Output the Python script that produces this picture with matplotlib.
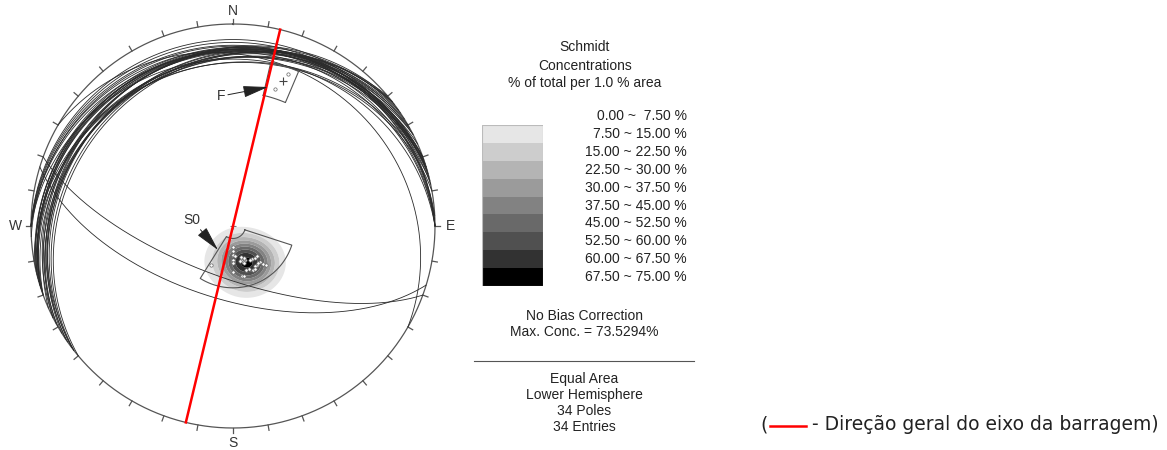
import numpy as np
import matplotlib.pyplot as plt
from matplotlib.patches import Rectangle
from matplotlib.lines import Line2D

# --- data: planes as (dip direction, dip) in degrees ---
# set S0 (shallow, dipping to NNW)
s0_dipdir = [0, 0, 0, 0, 0, 330, 325, 323, 328, 322, 320, 340, 336, 350, 0, 30,
             340, 342, 344, 346, 348, 333, 322, 326, 331, 343, 333, 347, 341, 345, 343, 357]
s0_dip = [8.5, 10, 11.5, 13.5, 15, 15.5, 15.5, 18, 18.5, 19.5, 20.5, 18.5, 19.5, 20.5, 18.5, 18,
          14.5, 14, 15, 14, 14.5, 15.5, 15.5, 18, 18.5, 18.5, 19.5, 20.5, 13.5, 13, 15.5, 12]
# set F (steep, dipping to SSW)
f_dipdir = [197, 200]
f_dip = [60, 69]
f_mean_pole = (19, 25)  # trend, plunge

# set windows: pole trend range / plunge range
s0_win_trend = [108, 212]
s0_win_plunge = [65, 85]
f_win_trend = [13, 23]
f_win_plunge = [18, 34]

# general direction of the dam axis (trend, degrees)
axis_trend = 13.5

# concentration legend
levels = [0, 7.5, 15, 22.5, 30, 37.5, 45, 52.5, 60, 67.5, 75]
greys = ["#e6e6e6", "#cdcdcd", "#b4b4b4", "#9b9b9b", "#828282",
         "#696969", "#505050", "#323232", "#000000"]


def project(trend, plunge):
    # lower hemisphere equal-area (Schmidt) projection, unit radius
    t = np.radians(trend)
    p = np.radians(plunge)
    r = np.sqrt(2) * np.sin((np.pi / 2 - p) / 2)
    return r * np.sin(t), r * np.cos(t)


def great_circle(dd, dip):
    dd = np.radians(dd)
    d = np.radians(dip)
    a = np.linspace(0, np.pi, 241)
    s = np.array([np.cos(dd - np.pi / 2), np.sin(dd - np.pi / 2), 0.0])
    v = np.array([np.cos(d) * np.cos(dd), np.cos(d) * np.sin(dd), np.sin(d)])
    ln = np.outer(np.cos(a), s) + np.outer(np.sin(a), v)
    plunge = np.degrees(np.arcsin(np.clip(ln[:, 2], -1, 1)))
    trend = np.degrees(np.arctan2(ln[:, 1], ln[:, 0]))
    return project(trend, plunge)


def to_vec(trend, plunge):
    t = np.radians(trend)
    p = np.radians(plunge)
    return np.stack([np.cos(p) * np.cos(t), np.cos(p) * np.sin(t), np.sin(p)], axis=-1)


def window(trends, plunges):
    t = np.linspace(trends[0], trends[1], 60)
    x1, y1 = project(t, np.full_like(t, plunges[1]))
    x2, y2 = project(t[::-1], np.full_like(t, plunges[0]))
    xs = np.concatenate([x1, x2, x1[:1]])
    ys = np.concatenate([y1, y2, y1[:1]])
    return xs, ys


all_dd = np.array(s0_dipdir + f_dipdir, dtype=float)
all_dip = np.array(s0_dip + f_dip, dtype=float)
pole_trend = (all_dd + 180) % 360
pole_plunge = 90 - all_dip
n_poles = len(all_dd)

fig = plt.figure(figsize=(11.67, 4.5), dpi=100)
plt.rcParams["font.family"] = ["Liberation Sans", "DejaVu Sans"]

# stereonet axes: centre at pixel (233, 226), radius 202 px
cx, cy, R, half = 233, 226, 202, 220
ax = fig.add_axes([(cx - half) / 1167, (450 - cy - half) / 450, 2 * half / 1167, 2 * half / 450])
lim = half / R
ax.set_xlim(-lim, lim)
ax.set_ylim(-lim, lim)
ax.set_aspect("equal")
ax.axis("off")

# density (Schmidt counting, smoothed)
g = np.linspace(-1, 1, 401)
gx, gy = np.meshgrid(g, g)
rr = np.hypot(gx, gy)
gp = 90 - 2 * np.degrees(np.arcsin(np.clip(rr / np.sqrt(2), 0, 1)))
gt = np.degrees(np.arctan2(gx, gy))
gv = to_vec(gt, gp)
pv = to_vec(pole_trend, pole_plunge)
cosang = np.abs(gv @ pv.T)
k = 85.0
dens = 100.0 / n_poles * np.exp(k * (cosang - 1)).sum(axis=-1)
dens = np.where(rr <= 1, dens, np.nan)
ax.contourf(gx, gy, dens, levels=levels[1:], colors=greys, zorder=1, extend="neither",
            antialiased=True)

# primitive circle and ticks
th = np.linspace(0, 2 * np.pi, 721)
ax.plot(np.sin(th), np.cos(th), color="#555555", lw=0.9, zorder=2)
for az in range(0, 360, 10):
    a = np.radians(az)
    ax.plot([np.sin(a), 1.027 * np.sin(a)], [np.cos(a), 1.027 * np.cos(a)],
            color="#555555", lw=0.9, zorder=2)
lab = dict(ha="center", va="center", fontsize=10, color="#333333")
ax.text(0, 1.062, "N", **lab)
ax.text(0, -1.075, "S", **lab)
ax.text(1.078, 0, "E", **lab)
ax.text(-1.075, 0, "W", **lab)

# plane great circles
for dd, dip in zip(all_dd, all_dip):
    x, y = great_circle(dd, dip)
    ax.plot(x, y, color="#2a2a2a", lw=0.6, zorder=3)

# set windows
for tr, pl in [(s0_win_trend, s0_win_plunge), (f_win_trend, f_win_plunge)]:
    x, y = window(tr, pl)
    ax.plot(x, y, color="#555555", lw=0.8, zorder=4)

# poles
px, py = project(pole_trend, pole_plunge)
ax.plot(px, py, "o", ms=2.4, mfc="white", mec="#666666", mew=0.5, ls="none", zorder=5)
mx, my = project(*f_mean_pole)
ax.plot(mx, my, "+", ms=6, color="#444444", mew=0.8, zorder=5)
ax.plot(0, 0, "+", ms=5, color="#777777", mew=0.8, zorder=5)

# dam axis direction
ax1, ay1 = project(axis_trend, 0)
ax2, ay2 = project(axis_trend + 180, 0)
ax.plot([ax1, ax2], [ay1, ay2], color="#ff0000", lw=1.8, zorder=6)

# set labels
arrow = dict(arrowstyle="-|>,head_length=1.3,head_width=0.3", color="#222222",
             lw=0.7, mutation_scale=12, shrinkA=0, shrinkB=0)
ax.annotate("F", xy=(0.173, 0.688), xytext=(-0.06, 0.643), ha="center", va="center",
            fontsize=10, color="#333333", arrowprops=arrow, zorder=7)
ax.annotate("S0", xy=(-0.074, -0.119), xytext=(-0.203, 0.03), ha="center", va="center",
            fontsize=10, color="#333333", arrowprops=arrow, zorder=7)


def fx(p):
    return p / 1167


def fy(p):
    return 1 - p / 450


# legend block
fs = 10
txt = dict(ha="center", va="center", fontsize=fs, color="#222222")
fig.text(fx(585), fy(47), "Schmidt", **txt)
fig.text(fx(585), fy(66), "Concentrations", **txt)
fig.text(fx(585), fy(83), "% of total per 1.0 % area", **txt)

row_y = [116 + 17.9 * i for i in range(10)]
for i in range(10):
    fig.text(fx(687), fy(row_y[i]), f"{levels[i]:.2f} ~ {levels[i + 1]:5.2f} %",
             ha="right", va="center", fontsize=fs, color="#222222")

lax = fig.add_axes([fx(482), fy(286), 61 / 1167, 161 / 450])
lax.set_xlim(0, 1)
lax.set_ylim(0, 9)
lax.axis("off")
for i, c in enumerate(greys):
    lax.add_patch(Rectangle((0, 8 - i), 1, 1, facecolor=c, edgecolor="none"))
lax.add_patch(Rectangle((0, 0), 1, 9, facecolor="none", edgecolor="#bbbbbb", lw=0.8))

fig.text(fx(584), fy(316), "No Bias Correction", **txt)
fig.text(fx(584), fy(332), "Max. Conc. = 73.5294%", **txt)
fig.add_artist(Line2D([fx(474), fx(694)], [fy(361), fy(361)], color="#555555", lw=0.8))
fig.text(fx(584), fy(379), "Equal Area", **txt)
fig.text(fx(584), fy(395), "Lower Hemisphere", **txt)
fig.text(fx(584), fy(411), f"{n_poles} Poles", **txt)
fig.text(fx(584), fy(427), f"{n_poles} Entries", **txt)

# caption on the right
fig.text(fx(760), fy(425), "(", ha="left", va="center", fontsize=13.5,
         family="DejaVu Sans", color="#222222")
fig.add_artist(Line2D([fx(770), fx(806)], [fy(426), fy(426)], color="#ff0000", lw=1.8))
fig.text(fx(812), fy(425), "- Direção geral do eixo da barragem)", ha="left", va="center",
         fontsize=13.5, family="DejaVu Sans", color="#222222")

fig.savefig("out.png", dpi=100)
